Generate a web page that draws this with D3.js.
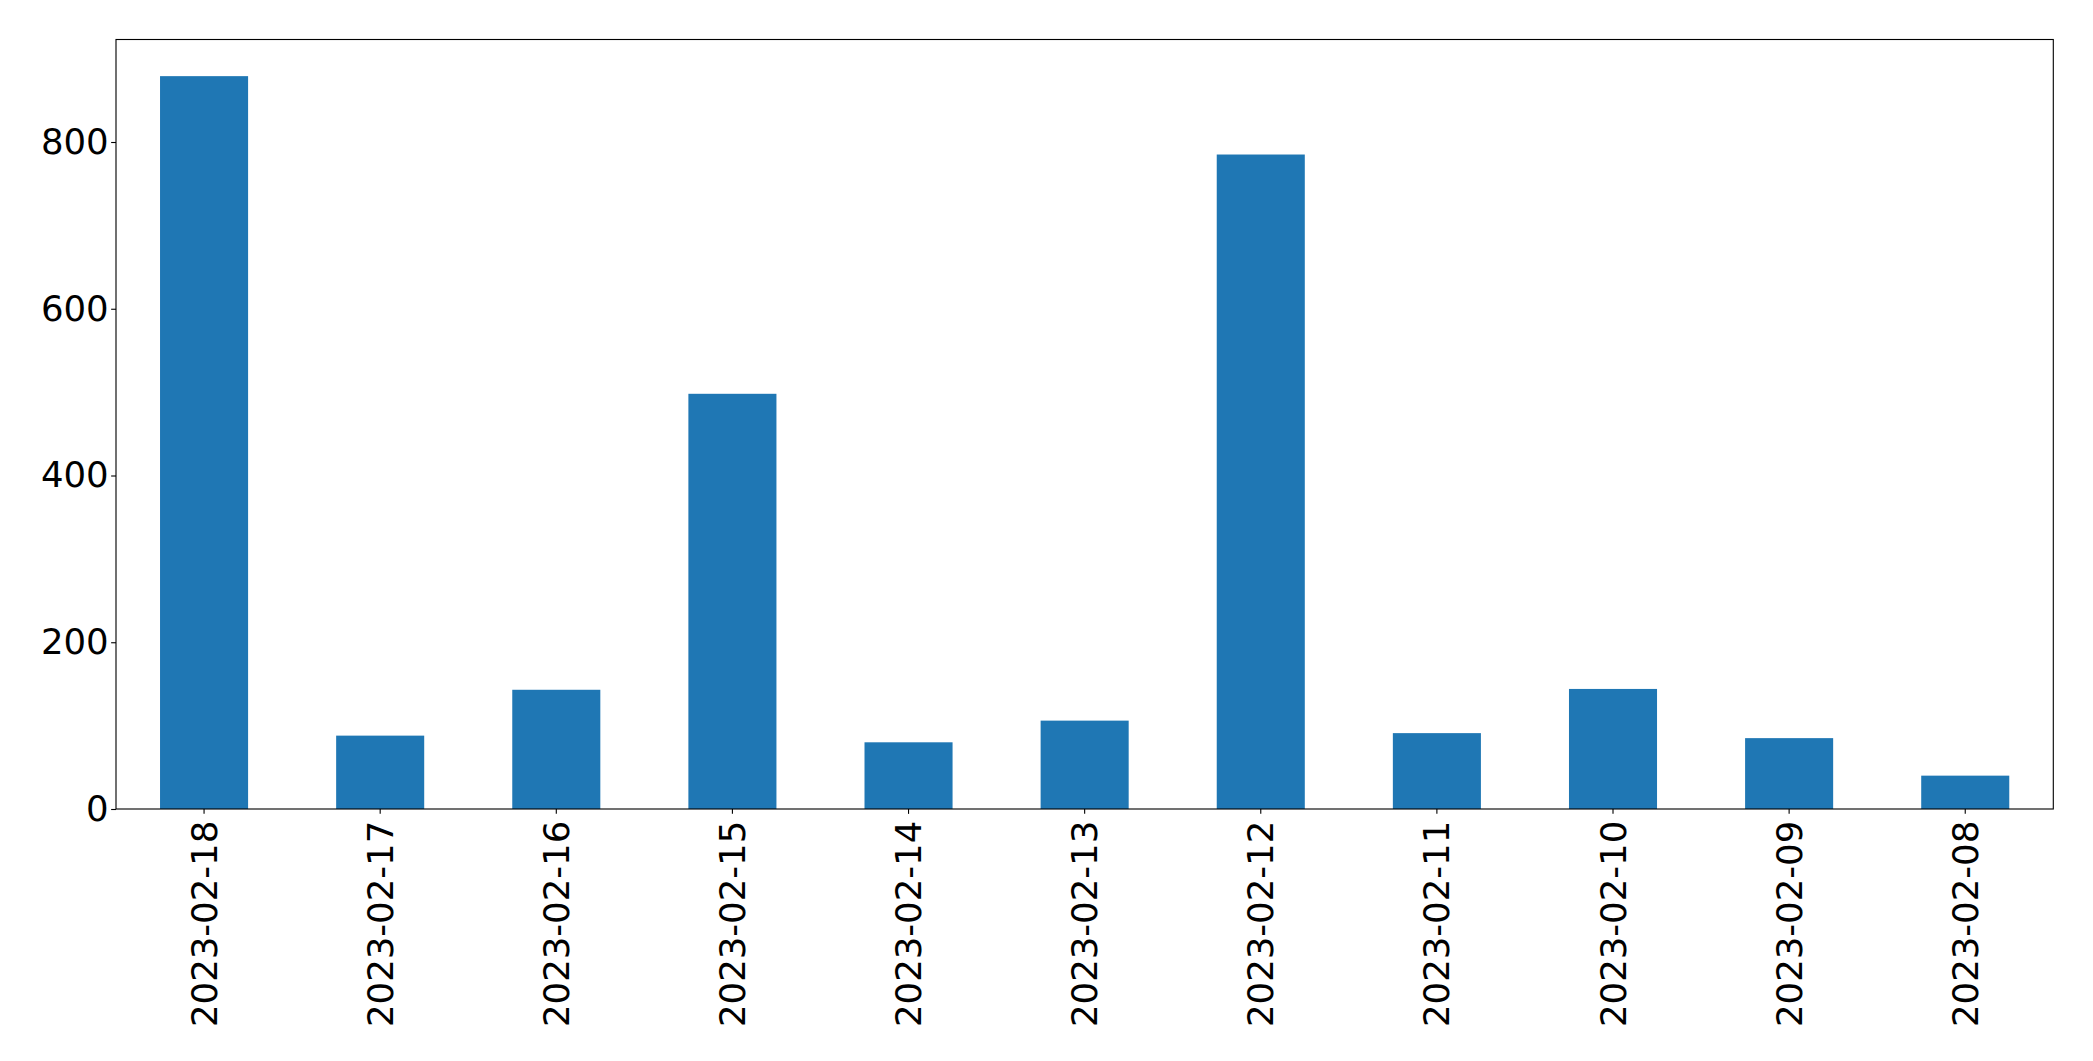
<!DOCTYPE html>
<html>
<head>
<meta charset="utf-8">
<script src="https://cdn.jsdelivr.net/npm/d3@7"></script>
<style>
  html, body { margin: 0; padding: 0; background: #fff; }
  svg { display: block; }
  text { font-family: "DejaVu Sans", sans-serif; }
</style>
</head>
<body>
<script>
const categories = ["2023-02-18","2023-02-17","2023-02-16","2023-02-15","2023-02-14","2023-02-13","2023-02-12","2023-02-11","2023-02-10","2023-02-09","2023-02-08"];
const values = [879, 88, 143, 498, 80, 106, 785, 91, 144, 85, 40];
const yTicks = [0, 200, 400, 600, 800];

const W = 2093, H = 1061;
const margin = {left: 116, right: W - 2053.3, top: 39.5, bottom: H - 809};
const fontSize = 35.5;
const tickLen = 4.86, tickPad = 4.86;

const svg = d3.select("body").append("svg").attr("width", W).attr("height", H);
const innerW = W - margin.left - margin.right;
const innerH = H - margin.top - margin.bottom;
const g = svg.append("g").attr("transform", `translate(${margin.left},${margin.top})`);

const x = d3.scaleBand().domain(categories).range([0, innerW]).paddingInner(0.5).paddingOuter(0.25);
const yMax = d3.max(values) * 1.05;
const y = d3.scaleLinear().domain([0, yMax]).range([innerH, 0]);

g.selectAll("rect.bar").data(categories).join("rect")
  .attr("class", "bar")
  .attr("x", d => x(d))
  .attr("width", x.bandwidth())
  .attr("y", (d, i) => y(values[i]))
  .attr("height", (d, i) => innerH - y(values[i]))
  .attr("fill", "#1f77b4");

// frame
g.append("rect").attr("x", 0).attr("y", 0).attr("width", innerW).attr("height", innerH)
  .attr("fill", "none").attr("stroke", "#000").attr("stroke-width", 1.11);

// y axis
const yAxis = d3.axisLeft(y).tickValues(yTicks).tickSize(tickLen).tickPadding(2.5).tickFormat(d3.format("d"));
const ya = g.append("g").call(yAxis);
ya.select(".domain").remove();
ya.selectAll(".tick line").attr("stroke", "#000").attr("stroke-width", 1.11);
ya.selectAll(".tick text").attr("font-size", fontSize).attr("font-family", "DejaVu Sans").attr("fill", "#000");

// x axis
const xAxis = d3.axisBottom(x).tickSize(tickLen).tickPadding(tickPad);
const xa = g.append("g").attr("transform", `translate(0,${innerH})`).call(xAxis);
xa.select(".domain").remove();
xa.selectAll(".tick line").attr("stroke", "#000").attr("stroke-width", 1.11);
xa.selectAll(".tick text")
  .attr("font-size", fontSize).attr("font-family", "DejaVu Sans").attr("fill", "#000")
  .attr("dy", null)
  .attr("y", 0)
  .attr("x", 0)
  .attr("text-anchor", "end")
  .attr("dominant-baseline", "central")
  .attr("transform", `translate(0,${tickLen + tickPad + 2}) rotate(-90)`);
</script>
</body>
</html>
